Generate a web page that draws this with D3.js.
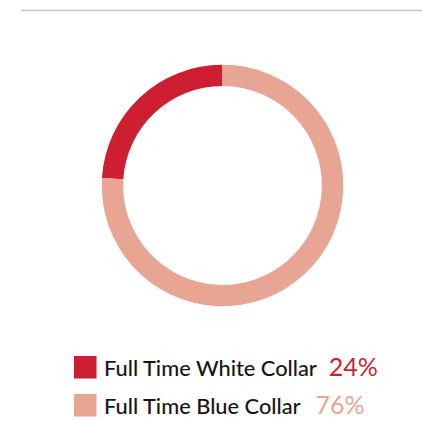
<!DOCTYPE html>
<html>
<head>
<meta charset="utf-8">
<script src="https://cdn.jsdelivr.net/npm/d3@7"></script>
<style>
  html, body { margin: 0; padding: 0; background: #fff; }
  svg { display: block; }
</style>
</head>
<body>
<svg id="chart" width="422" height="421"></svg>
<script>
// Workforce split by collar type (percent)
const categories = ["Full Time White Collar", "Full Time Blue Collar"];
const values = [24, 76];
const valueLabels = ["24%", "76%"];
const colors = ["#cd1f31", "#e8a593"];

const svg = d3.select("#chart");

// Divider rule across the top
svg.append("line")
  .attr("x1", 21).attr("x2", 422)
  .attr("y1", 10.5).attr("y2", 10.5)
  .attr("stroke", "#c6c6c6")
  .attr("stroke-width", 1.3);

// Donut, drawn counter-clockwise from 12 o'clock
const cx = 222.5, cy = 185.5, outerR = 120.8, innerR = 99.4;
const pie = d3.pie().sort(null).startAngle(0).endAngle(-2 * Math.PI);
const arc = d3.arc().innerRadius(innerR).outerRadius(outerR);

svg.append("g")
  .attr("transform", `translate(${cx},${cy})`)
  .selectAll("path")
  .data(pie(values))
  .join("path")
  .attr("d", arc)
  .attr("fill", (d, i) => colors[i]);

// Legend
const legend = svg.append("g");
const rowY = d3.scalePoint().domain(categories).range([376, 414]);

const rows = legend.selectAll("g")
  .data(categories)
  .join("g")
  .attr("transform", d => `translate(0,${rowY(d)})`);

rows.append("rect")
  .attr("x", 74).attr("y", -20)
  .attr("width", 22.5).attr("height", 22.5)
  .attr("fill", (d, i) => colors[i]);

rows.append("text")
  .attr("x", 104)
  .attr("y", 0)
  .attr("font-family", "Lato, 'Open Sans', sans-serif")
  .attr("font-weight", 500)
  .attr("font-size", 21.8)
  .attr("fill", "#161616")
  .text(d => d);

rows.each(function(d, i) {
  const g = d3.select(this);
  const w = g.select("text").node().getComputedTextLength();
  g.append("text")
    .attr("x", 104 + w + (i === 0 ? 12 : 15))
    .attr("y", 0)
    .attr("font-family", "Lato, 'Open Sans', sans-serif")
    .attr("font-weight", 400)
    .attr("font-size", 25)
    .attr("fill", colors[i])
    .text(valueLabels[i]);
});
</script>
</body>
</html>
